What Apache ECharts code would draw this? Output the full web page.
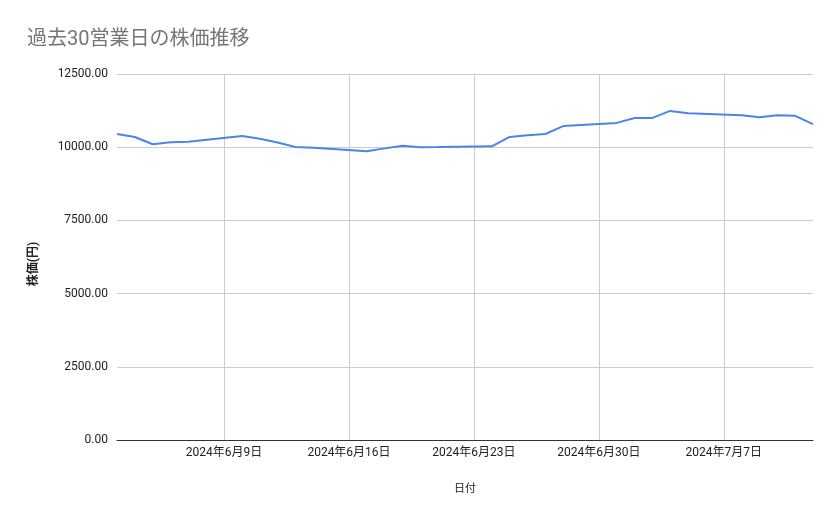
<!DOCTYPE html>
<html>
<head>
<meta charset="utf-8">
<title>過去30営業日の株価推移</title>
<script src="https://cdn.jsdelivr.net/npm/echarts@6/dist/echarts.min.js"></script>
<style>
  html, body { margin: 0; padding: 0; background: #fff; }
  #chart_box { width: 839px; height: 519px; }
</style>
</head>
<body>
<div id="chart_box"></div>
<script>
// 営業日と終値
let dates = [
    '2024-06-03', '2024-06-04', '2024-06-05', '2024-06-06', '2024-06-07',
    '2024-06-10', '2024-06-11', '2024-06-12', '2024-06-13', '2024-06-14',
    '2024-06-17', '2024-06-18', '2024-06-19', '2024-06-20', '2024-06-21',
    '2024-06-24', '2024-06-25', '2024-06-26', '2024-06-27', '2024-06-28',
    '2024-07-01', '2024-07-02', '2024-07-03', '2024-07-04', '2024-07-05',
    '2024-07-08', '2024-07-09', '2024-07-10', '2024-07-11', '2024-07-12'
];
let prices = [
    10450, 10350, 10100, 10170, 10190,
    10380, 10290, 10160, 10010, 9980,
    9860, 9960, 10050, 10000, 10005,
    10030, 10350, 10410, 10450, 10720,
    10830, 11000, 11000, 11240, 11160,
    11090, 11020, 11090, 11070, 10790
];
// 目盛り(日曜日)
let tickDates = ['2024-06-09', '2024-06-16', '2024-06-23', '2024-06-30', '2024-07-07'];
let yTicks = [0, 2500, 5000, 7500, 10000, 12500];

function toTime(s) {
    return echarts.time.parse(s).getTime();
}

let myChart = echarts.init(document.getElementById('chart_box'));
let tickValues = tickDates.map(toTime);

let myOption = {
    animation: false,
    textStyle: { fontFamily: 'Roboto, "Noto Sans CJK JP", sans-serif' },
    title: {
        text: '過去30営業日の株価推移',
        left: 22,
        top: 25,
        textStyle: {
            color: '#757575',
            fontSize: 20,
            fontWeight: 'normal',
            fontFamily: 'Roboto, "Noto Sans CJK JP", sans-serif'
        }
    },
    grid: {
        left: 117,
        right: 26,
        top: 74,
        bottom: 79,
        containLabel: false
    },
    xAxis: {
        type: 'value',
        scale: true,
        min: toTime(dates[0]),
        max: toTime(dates[dates.length - 1]),
        name: '日付',
        nameLocation: 'middle',
        nameGap: 44,
        nameTextStyle: { color: '#222', fontSize: 11 },
        axisLine: { show: true, onZero: false, lineStyle: { color: '#333', width: 1 } },
        axisTick: { show: false, customValues: tickValues },
        axisLabel: {
            customValues: tickValues,
            color: '#222',
            fontSize: 12,
            margin: 7,
            formatter: function (v) {
                let d = new Date(v);
                return d.getFullYear() + '年' + (d.getMonth() + 1) + '月' + d.getDate() + '日';
            }
        },
        splitLine: { show: true, lineStyle: { color: '#cccccc', width: 1 } }
    },
    yAxis: {
        type: 'value',
        min: yTicks[0],
        max: yTicks[yTicks.length - 1],
        interval: 2500,
        name: '株価(円)',
        nameLocation: 'middle',
        nameGap: 77,
        nameTextStyle: { color: '#222', fontSize: 12, fontWeight: 'bold', padding: [0, 14, 0, 0] },
        axisLine: { show: false },
        axisTick: { show: false },
        axisLabel: {
            color: '#222',
            fontSize: 12,
            margin: 9,
            formatter: function (v) { return v.toFixed(2); }
        },
        splitLine: { lineStyle: { color: '#cccccc', width: 1 } }
    },
    series: [{
        name: '株価',
        type: 'line',
        showSymbol: false,
        symbol: 'none',
        lineStyle: { color: '#4a86e8', width: 2 },
        data: dates.map(function (d, i) { return [toTime(d), prices[i]]; })
    }]
};

myChart.setOption(myOption);
</script>
</body>
</html>
